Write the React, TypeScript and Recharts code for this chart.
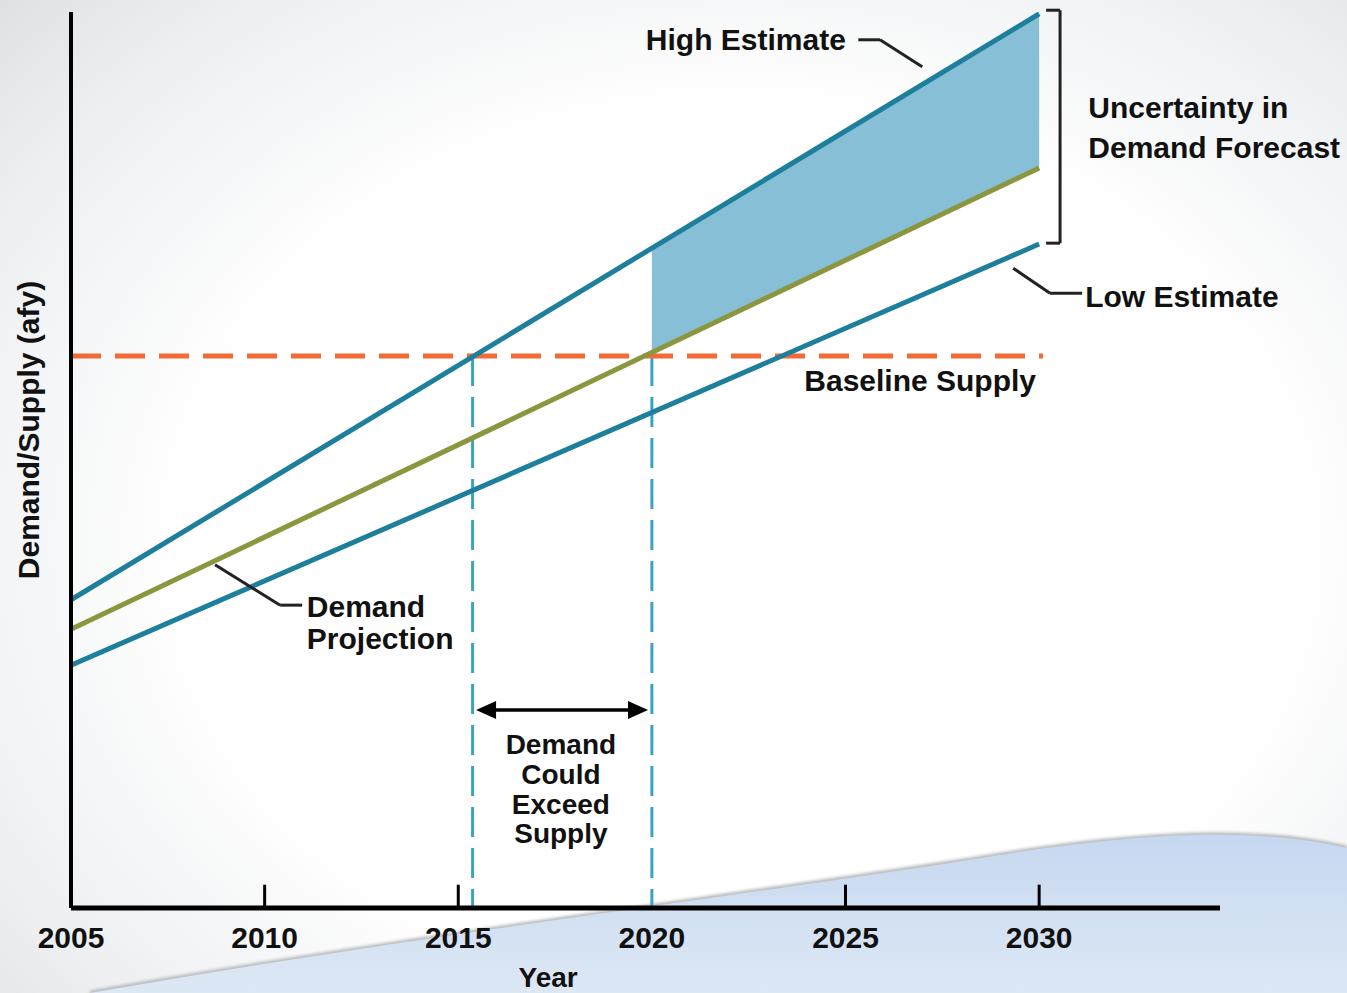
import React from 'react';
import { ComposedChart, Line, Area, XAxis, YAxis, ReferenceLine, ReferenceDot } from 'recharts';

// ---- data (arbitrary demand/supply units, 0..100) ----
const years = [2005, 2030];
const highEstimate = [34.4, 99.8];
const demandProjection = [31.1, 82.6];
const lowEstimate = [27.1, 74.1];
const baselineSupply = 61.6;
const uncertaintyYears = [2020, 2030];
const uncertaintyLow = [62.0, 82.6];
const uncertaintyHigh = [73.8, 99.8];
const xTicks = [2005, 2010, 2015, 2020, 2025, 2030];
const tickMarkYears = [2010, 2015, 2025, 2030];
const exceedStart = 2015.37;
const exceedEnd = 2020;

const highData = years.map((y, i) => ({ year: y, v: highEstimate[i] }));
const demandData = years.map((y, i) => ({ year: y, v: demandProjection[i] }));
const lowData = years.map((y, i) => ({ year: y, v: lowEstimate[i] }));
const areaData = uncertaintyYears.map((y, i) => ({ year: y, range: [uncertaintyLow[i], uncertaintyHigh[i]] }));

// ---- annotations (anchored in data coordinates) ----
const textLabels = [
  { text: 'High Estimate', x: 2025.01, y: 96.9, anchor: 'end', size: 30 },
  { text: 'Uncertainty in', x: 2031.27, y: 89.3, anchor: 'start', size: 30 },
  { text: 'Demand Forecast', x: 2031.27, y: 84.9, anchor: 'start', size: 30 },
  { text: 'Low Estimate', x: 2031.19, y: 68.3, anchor: 'start', size: 30 },
  { text: 'Baseline Supply', x: 2029.92, y: 58.9, anchor: 'end', size: 30 },
  { text: 'Demand', x: 2011.09, y: 33.7, anchor: 'start', size: 30 },
  { text: 'Projection', x: 2011.09, y: 30.1, anchor: 'start', size: 30 },
  { text: 'Demand', x: 2017.65, y: 18.2, anchor: 'middle', size: 28 },
  { text: 'Could', x: 2017.65, y: 14.9, anchor: 'middle', size: 28 },
  { text: 'Exceed', x: 2017.65, y: 11.6, anchor: 'middle', size: 28 },
  { text: 'Supply', x: 2017.65, y: 8.3, anchor: 'middle', size: 28 },
  { text: 'Year', x: 2017.32, y: -7.8, anchor: 'middle', size: 28 },
];

const leaderLines = [
  [{ x: 2025.33, y: 96.9 }, { x: 2025.89, y: 96.9 }],
  [{ x: 2025.89, y: 96.9 }, { x: 2026.98, y: 93.9 }],
  [{ x: 2029.33, y: 71.4 }, { x: 2030.28, y: 68.6 }],
  [{ x: 2030.28, y: 68.6 }, { x: 2031.11, y: 68.6 }],
  [{ x: 2008.72, y: 38.3 }, { x: 2010.4, y: 33.8 }],
  [{ x: 2010.4, y: 33.8 }, { x: 2010.97, y: 33.8 }],
  [{ x: 2030.54, y: 74.2 }, { x: 2030.54, y: 100.2 }],
  [{ x: 2030.18, y: 100.2 }, { x: 2030.54, y: 100.2 }],
  [{ x: 2030.18, y: 74.2 }, { x: 2030.54, y: 74.2 }],
];

const FONT = '"Liberation Sans", Arial, Helvetica, sans-serif';
const TEAL = '#1d7f9b';
const OLIVE = '#8b963f';
const FILL = '#86bfd6';
const ORANGE = '#f26a35';
const VDASH = '#3aa3c4';

const TextShape = (lbl: any) => (props: any) => (
  <text
    x={props.cx}
    y={props.cy}
    textAnchor={lbl.anchor}
    dominantBaseline="central"
    fontFamily={FONT}
    fontWeight="bold"
    fontSize={lbl.size}
    fill="#111"
  >
    {lbl.text}
  </text>
);

const ArrowShape = (props: any) => {
  const { x1, y1, x2, y2 } = props;
  const L = 20;
  const H = 9;
  return (
    <g>
      <line x1={x1 + L - 2} y1={y1} x2={x2 - L + 2} y2={y2} stroke="#000" strokeWidth={3.5} />
      <path d={`M${x1},${y1} L${x1 + L},${y1 - H} L${x1 + L},${y1 + H} Z`} fill="#000" />
      <path d={`M${x2},${y2} L${x2 - L},${y2 - H} L${x2 - L},${y2 + H} Z`} fill="#000" />
    </g>
  );
};

const XTick = (props: any) => {
  const { x, y, payload } = props;
  return (
    <text x={x} y={y + 29} textAnchor="middle" dominantBaseline="central" fontFamily={FONT} fontWeight="bold" fontSize={30} fill="#111">
      {payload.value}
    </text>
  );
};

const YLabel = (props: any) => {
  const vb = props.viewBox || {};
  const cx = (vb.x || 0) + 28;
  const cy = (vb.y || 0) + (vb.height || 0) / 2 - 30;
  return (
    <text x={cx} y={cy} transform={`rotate(-90, ${cx}, ${cy})`} textAnchor="middle" dominantBaseline="central" fontFamily={FONT} fontWeight="bold" fontSize={30} fill="#111">
      Demand/Supply (afy)
    </text>
  );
};

export default function App() {
  return (
    <div
      style={{
        position: 'absolute',
        left: 0,
        top: 0,
        width: 1347,
        height: 993,
        overflow: 'hidden',
        background: 'radial-gradient(ellipse 75% 80% at 55% 55%, #ffffff 55%, #eceef0 85%, #dfe2e5 100%)',
      }}
    >
      <svg width={1347} height={993} style={{ position: 'absolute', left: 0, top: 0 }}>
        <defs>
          <linearGradient id="wave" x1="0" y1="0" x2="0" y2="1">
            <stop offset="0%" stopColor="#c6d8f0" />
            <stop offset="100%" stopColor="#dde8f5" />
          </linearGradient>
          <filter id="soft" x="-5%" y="-5%" width="110%" height="110%">
            <feGaussianBlur stdDeviation="1.5" />
          </filter>
        </defs>
        <path d="M 90 993 C 420 935, 800 888, 1000 855 C 1150 831, 1260 828, 1347 848" fill="none" stroke="#b9bbbe" strokeWidth={5} filter="url(#soft)" />
        <path d="M 90 993 C 420 935, 800 888, 1000 855 C 1150 831, 1260 828, 1347 848 L 1347 993 Z" fill="url(#wave)" />
      </svg>
      <div style={{ position: 'absolute', left: 0, top: 0 }}>
        <ComposedChart width={1347} height={993} margin={{ top: 12, right: 127, bottom: 0, left: 0 }}>
          <XAxis
            dataKey="year"
            type="number"
            domain={[2005, 2034.67]}
            ticks={xTicks}
            allowDataOverflow
            height={85}
            tickSize={0}
            tickMargin={0}
            tickLine={false}
            tick={<XTick />}
            axisLine={{ stroke: '#000', strokeWidth: 5 }}
          />
          <YAxis
            type="number"
            domain={[0, 100]}
            allowDataOverflow
            width={71}
            tick={false}
            tickLine={false}
            axisLine={{ stroke: '#000', strokeWidth: 4 }}
            label={<YLabel />}
          />
          <Area
            data={areaData}
            dataKey="range"
            type="linear"
            stroke="none"
            fill={FILL}
            fillOpacity={1}
            isAnimationActive={false}
          />
          {tickMarkYears.map((t) => (
            <ReferenceLine key={'t' + t} segment={[{ x: t, y: 0 }, { x: t, y: 2.6 }]} stroke="#000" strokeWidth={3} ifOverflow="visible" />
          ))}
          <ReferenceLine
            segment={[{ x: exceedStart, y: baselineSupply }, { x: exceedStart, y: 0 }]}
            stroke={VDASH}
            strokeWidth={3}
            strokeDasharray="30 11"
            ifOverflow="visible"
          />
          <ReferenceLine
            segment={[{ x: exceedEnd, y: baselineSupply }, { x: exceedEnd, y: 0 }]}
            stroke={VDASH}
            strokeWidth={3}
            strokeDasharray="30 11"
            ifOverflow="visible"
          />
          <ReferenceLine
            segment={[{ x: 2005, y: baselineSupply }, { x: 2030.1, y: baselineSupply }]}
            stroke={ORANGE}
            strokeWidth={5}
            strokeDasharray="30 14"
            ifOverflow="visible"
          />
          <Line data={lowData} dataKey="v" type="linear" stroke={TEAL} strokeWidth={5} dot={false} activeDot={false} isAnimationActive={false} />
          <Line data={demandData} dataKey="v" type="linear" stroke={OLIVE} strokeWidth={5} dot={false} activeDot={false} isAnimationActive={false} />
          <Line data={highData} dataKey="v" type="linear" stroke={TEAL} strokeWidth={5} dot={false} activeDot={false} isAnimationActive={false} />
          <ReferenceLine
            segment={[{ x: 2015.46, y: 22.1 }, { x: 2019.9, y: 22.1 }]}
            shape={ArrowShape}
            ifOverflow="visible"
          />
          {leaderLines.map((seg, i) => (
            <ReferenceLine key={'l' + i} segment={seg} stroke="#222" strokeWidth={3} ifOverflow="visible" />
          ))}
          {textLabels.map((lbl, i) => (
            <ReferenceDot key={'a' + i} x={lbl.x} y={lbl.y} r={0} ifOverflow="visible" shape={TextShape(lbl)} />
          ))}
        </ComposedChart>
      </div>
    </div>
  );
}
